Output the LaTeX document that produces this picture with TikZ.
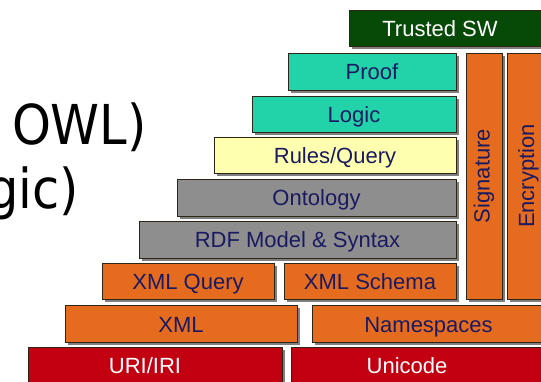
\documentclass[tikz,border=0pt]{standalone}
\usepackage{fontspec}
\setmainfont{Liberation Sans}
\newfontfamily\bigfont{DejaVu Sans}
\usetikzlibrary{shadows}
\definecolor{navy}{HTML}{1A1A62}
\definecolor{edge}{HTML}{2E2418}
\definecolor{dkgreen}{HTML}{074A07}
\definecolor{teal}{HTML}{22D2A8}
\definecolor{paleyellow}{HTML}{FFFFB0}
\definecolor{midgray}{HTML}{8E8E8E}
\definecolor{orng}{HTML}{E56C1E}
\definecolor{crimson}{HTML}{C20012}
\newcommand\blk[7]{%
  \node[box, #6, minimum width={#4-#2}, minimum height={#5-#3}] (#1) at (#2,#3) {#7};}
\begin{document}
\begin{tikzpicture}[x=1pt,y=-1pt,
  box/.style={draw=edge, line width=0.8pt, inner sep=0pt, outer sep=0pt,
    anchor=north west, font=\fontsize{22}{24}\selectfont, text=navy,
    drop shadow={shadow xshift=3pt, shadow yshift=-3pt, fill=black, opacity=0.5}},
  row/.style={text height=20pt, text depth=3pt},
  bigtext/.style={font=\bigfont\fontsize{55}{60}\selectfont, text=black,
    inner sep=0pt, xscale=0.9, transform shape}]
\useasboundingbox (0,0) rectangle (541,382);
\clip (0,0) rectangle (541,382);
\node[bigtext, anchor=base east] (owl) at (147,145) {OWL)};
\node[bigtext, anchor=base east] (gic) at (79,209) {gic)};
\blk{trusted}{349}{10}{548}{46}{row, fill=dkgreen, text=white}{Trusted SW\hspace*{17pt}}
\blk{proof}{288}{53}{456}{90}{row, fill=teal}{Proof}
\blk{logic}{252}{96}{456}{132}{row, fill=teal}{Logic}
\blk{rules}{214}{137}{456}{173}{row, fill=paleyellow}{Rules/Query}
\blk{onto}{177}{179}{456}{216}{row, fill=midgray}{Ontology}
\blk{rdf}{139}{221}{456}{258}{row, fill=midgray}{RDF Model \& Syntax}
\blk{xmlq}{102}{263}{274}{299}{row, fill=orng}{XML Query}
\blk{xmls}{284}{263}{456}{299}{row, fill=orng}{XML Schema}
\blk{xml}{65}{305}{297}{342}{row, fill=orng}{XML}
\blk{ns}{312}{305}{545}{342}{row, fill=orng}{Namespaces}
\blk{uri}{28}{347}{282}{383}{row, fill=crimson, text=white}{URI/IRI\hspace*{20pt}}
\blk{uni}{291}{347}{545}{383}{row, fill=crimson, text=white}{Unicode\hspace*{22pt}}
\blk{sig}{466}{53}{502}{299}{fill=orng}{\rotatebox{90}{Signature}}
\blk{enc}{507}{53}{550}{299}{fill=orng}{\rotatebox{90}{Encryption}}
\end{tikzpicture}
\end{document}
